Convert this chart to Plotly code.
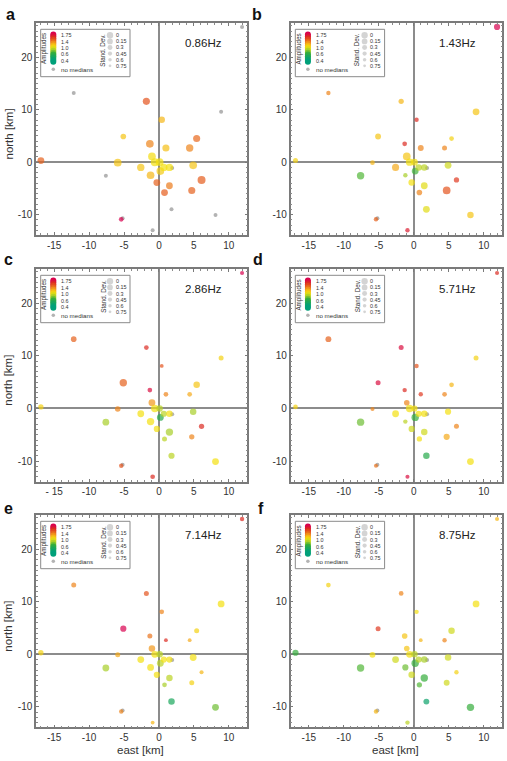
import numpy as np
import plotly.graph_objects as go

# ---------------- data ----------------
east = [11.9, -12.2, -1.8, 0.4, 8.9, -5.1, -1.3, 1.0, 4.4, 5.4, -16.9, -5.9, -1.0, -0.6, 0.1, -2.6,
        -1.2, -7.6, 0.2, 0.7, 1.5, 1.9, 4.9, -0.3, 1.5, 0.8, 4.7, 6.1, 1.8, 8.1, -5.4, -5.2, -0.9]
north = [25.8, 13.2, 11.6, 8.1, 9.6, 4.9, 3.5, 2.7, 2.7, 4.5, 0.3, -0.1, 1.1, 0.0, 0.0, -1.0,
         -2.5, -2.6, -1.7, -1.0, -1.0, -1.1, -0.6, -3.9, -4.5, -5.8, -5.4, -3.4, -9.0, -10.1, -10.9, -10.7, -13.0]

freq_labels = ["0.86Hz", "1.43Hz", "2.86Hz", "5.71Hz", "7.14Hz", "8.75Hz"]
panel_letters = ["a", "b", "c", "d", "e", "f"]

N = None
amp_a = [N, N, 1.45, 1.15, N, 1.1, 1.3, 1.12, 1.3, 1.38, 1.4, 1.1, 1.02, 1.0, 1.0, 1.1,
         1.15, N, 1.08, 1.0, 1.0, N, 1.1, 1.4, 1.33, 1.42, 1.4, 1.42, N, N, 1.75, N, N]
std_a = [N, N, 0.15, 0.25, N, 0.4, 0.05, 0.15, 0.1, 0.15, 0.2, 0.05, 0.05, 0.0, 0.05, 0.1,
         0.05, N, 0.05, 0.1, 0.1, N, 0.05, 0.2, 0.2, 0.2, 0.15, 0.0, N, N, 0.55, N, N]

amp_b = [1.75, 1.3, 1.15, 1.6, 1.1, 1.1, 1.6, 1.3, 1.3, 1.05, 1.05, 1.15, 1.1, 1.0, 1.0, 1.2,
         0.8, 0.65, 0.62, 0.85, 0.85, N, 0.9, 1.0, 0.95, 1.3, 1.45, 1.55, 0.95, 1.1, 1.4, N, 1.65]
std_b = [0.3, 0.6, 0.45, 0.6, 0.2, 0.35, 0.55, 0.35, 0.5, 0.55, 0.5, 0.55, 0.05, 0.1, 0.2, 0.15,
         0.6, 0.1, 0.2, 0.25, 0.25, N, 0.2, 0.25, 0.2, 0.4, 0.05, 0.45, 0.2, 0.25, 0.6, N, 0.6]

amp_c = [1.75, 1.4, 1.6, 1.45, 1.05, 1.4, 1.7, 1.3, 1.2, 1.1, 1.05, 1.3, 1.25, 1.0, 0.85, 1.0,
         1.0, 0.8, 0.55, 0.85, 1.0, N, 0.8, 1.0, 0.8, 0.85, 1.3, 1.6, 0.85, 1.0, 1.45, N, 1.6]
std_c = [0.65, 0.4, 0.55, 0.7, 0.5, 0.1, 0.55, 0.55, 0.55, 0.25, 0.45, 0.4, 0.2, 0.1, 0.25, 0.2,
         0.1, 0.2, 0.2, 0.3, 0.25, N, 0.25, 0.3, 0.1, 0.5, 0.45, 0.45, 0.3, 0.2, 0.6, N, 0.55]

amp_d = [1.6, 1.4, 1.7, 1.45, 1.05, 1.7, 1.6, 1.55, 1.3, 1.15, 1.05, 1.3, 1.3, 1.0, 1.0, 1.0,
         0.85, 0.7, 0.6, 1.0, 1.0, N, 1.0, 0.9, 0.9, 1.0, 1.2, 1.3, 0.55, 1.0, 1.35, N, 1.7]
std_d = [0.65, 0.35, 0.5, 0.6, 0.5, 0.5, 0.6, 0.6, 0.55, 0.55, 0.55, 0.65, 0.4, 0.1, 0.3, 0.2,
         0.6, 0.1, 0.1, 0.3, 0.25, N, 0.3, 0.3, 0.25, 0.45, 0.3, 0.5, 0.25, 0.2, 0.65, N, 0.65]

amp_e = [1.6, 1.3, 1.45, 1.3, 1.0, 1.75, 1.35, 1.6, 1.2, 1.05, 1.05, 1.2, 1.25, 1.0, 0.85, 1.0,
         1.0, 0.8, 0.85, 1.0, 1.0, N, 1.0, 1.0, 0.85, 0.8, 1.05, 1.15, 0.5, 0.7, 1.3, N, 1.15]
std_e = [0.6, 0.5, 0.5, 0.55, 0.2, 0.3, 0.5, 0.7, 0.7, 0.5, 0.45, 0.5, 0.25, 0.2, 0.25, 0.2,
         0.2, 0.2, 0.2, 0.3, 0.3, N, 0.2, 0.3, 0.25, 0.55, 0.5, 0.65, 0.25, 0.2, 0.6, N, 0.7]

amp_f = [1.15, 1.05, 1.3, 1.0, 1.0, 1.55, 1.1, 1.15, 1.3, 0.9, 0.6, 1.0, 1.1, 1.0, 0.85, 0.9,
         0.7, 0.65, 0.6, 0.85, 0.8, N, 0.9, 0.9, 0.6, 0.65, 0.9, 1.05, 0.45, 0.6, 1.15, N, 0.85]
std_f = [0.65, 0.55, 0.55, 0.6, 0.2, 0.5, 0.4, 0.7, 0.6, 0.25, 0.3, 0.35, 0.4, 0.2, 0.25, 0.2,
         0.3, 0.1, 0.1, 0.3, 0.25, N, 0.25, 0.25, 0.1, 0.45, 0.35, 0.6, 0.35, 0.1, 0.6, N, 0.6]

amps = [amp_a, amp_b, amp_c, amp_d, amp_e, amp_f]
stds = [std_a, std_b, std_c, std_d, std_e, std_f]

xtick_vals = [-15, -10, -5, 0, 5, 10]
xtick_text = ["-15", "-10", "-5", "0", "5", "10"]
xtick_text_c = ["- 15", "-10", "-5", "0", "5", "10"]
ytick_vals = [-10, 0, 10, 20]
ytick_text = ["-10", "0", "10", "20"]

amp_legend_vals = [1.75, 1.4, 1.0, 0.6, 0.4]
amp_legend_text = ["1.75", "1.4", "1.0", "0.6", "0.4"]
std_legend_vals = [0, 0.15, 0.3, 0.45, 0.6, 0.75]
std_legend_text = ["0", "0.15", "0.3", "0.45", "0.6", "0.75"]

# ---------------- styling ----------------
W, H = 507, 761
XR = [-17.6, 12.65]
YR = [-13.9, 26.55]
CMIN, CMAX = 0.4, 1.75


def cs_pos(v):
    return (v - CMIN) / (CMAX - CMIN)


colorscale = [
    [cs_pos(0.4), "#00a07a"],
    [cs_pos(0.6), "#34ad3c"],
    [cs_pos(0.8), "#a8cf2a"],
    [cs_pos(1.0), "#f4e00f"],
    [cs_pos(1.2), "#f5a91a"],
    [cs_pos(1.4), "#e6611c"],
    [cs_pos(1.6), "#dc2b22"],
    [cs_pos(1.75), "#d9004f"],
]


def msize(s):
    return 8.0 - 6.0 * s


GRAY = "#b3b3b3"
FONT = "Liberation Sans, Arial, Helvetica, sans-serif"
TXT = "#333333"
LEG_FS = 5.4

col_px = [(36.0, 247.3), (290.6, 502.3)]
row_px = [(23.0, 235.0), (269.0, 481.5), (515.0, 727.3)]

fig = go.Figure()
annotations = []
shapes = []

for i in range(6):
    r, c = divmod(i, 2)
    n = "" if i == 0 else str(i + 1)
    xa, ya = "x" + n, "y" + n
    x0p, x1p = col_px[c]
    y0p, y1p = row_px[r]
    PW, PH = x1p - x0p, y1p - y0p

    def dx(px):
        return XR[0] + px / PW * (XR[1] - XR[0])

    def dy(py):
        return YR[1] - py / PH * (YR[1] - YR[0])

    axis_common = dict(
        showgrid=False, zeroline=True, zerolinecolor="#8c8c8c", zerolinewidth=2,
        showline=True, linecolor="#7a7a7a", linewidth=1.5, mirror="ticks",
        ticks="inside", ticklen=3, tickwidth=1, tickcolor="#7a7a7a",
        minor=dict(dtick=1, tick0=0, ticks="inside", ticklen=2, tickwidth=1, tickcolor="#8a8a8a"),
        tickfont=dict(size=10, color=TXT, family=FONT), tickmode="array", fixedrange=True,
    )
    fig.update_layout(**{
        "xaxis" + n: dict(axis_common, range=XR, domain=[x0p / W, x1p / W], anchor=ya,
                          tickvals=xtick_vals, ticktext=(xtick_text_c if i == 2 else xtick_text)),
        "yaxis" + n: dict(axis_common, range=YR, domain=[1 - y1p / H, 1 - y0p / H], anchor=xa,
                          tickvals=ytick_vals, ticktext=ytick_text),
    })

    amp, std = amps[i], stds[i]
    gx = [east[k] for k in range(len(east)) if amp[k] is None]
    gy = [north[k] for k in range(len(east)) if amp[k] is None]
    cx = [east[k] for k in range(len(east)) if amp[k] is not None]
    cy = [north[k] for k in range(len(east)) if amp[k] is not None]
    ca = [amp[k] for k in range(len(east)) if amp[k] is not None]
    cs = [msize(std[k]) for k in range(len(east)) if amp[k] is not None]

    fig.add_trace(go.Scatter(x=gx, y=gy, mode="markers", xaxis=xa, yaxis=ya, hoverinfo="skip",
                             marker=dict(size=4, color=GRAY, line=dict(width=0))))
    fig.add_trace(go.Scatter(x=cx, y=cy, mode="markers", xaxis=xa, yaxis=ya,
                             marker=dict(size=cs, color=ca, colorscale=colorscale, cmin=CMIN, cmax=CMAX,
                                         line=dict(width=0))))

    # ----- in-panel legend -----
    shapes.append(dict(type="rect", xref=xa + " domain", yref=ya + " domain",
                       x0=4.7 / PW, x1=94.0 / PW, y0=1 - 53.7 / PH, y1=1 - 6.3 / PH,
                       line=dict(color="#8a8a8a", width=1), fillcolor="white", layer="below"))

    def dom_ann(text, px, py, size=LEG_FS, angle=0, xanchor="left"):
        annotations.append(dict(text=text, xref=xa + " domain", yref=ya + " domain",
                                x=px / PW, y=1 - py / PH, showarrow=False, textangle=angle,
                                xanchor=xanchor, yanchor="middle", borderpad=0,
                                font=dict(size=size, color=TXT, family=FONT)))

    dom_ann("Amplitudes", 8.0, 26.0, size=6.3, angle=-90, xanchor="center")
    dom_ann("Stand. Dev.", 66.7, 27.0, size=6.3, angle=-90, xanchor="center")
    amp_lab_y = [12.3, 18.7, 25.1, 31.5, 37.9]
    for t, yy in zip(amp_legend_text, amp_lab_y):
        dom_ann(t, 24.2, yy)
    dom_ann("no medians", 24.2, 46.2, size=6.2)
    std_lab_y = [12.3, 18.4, 24.5, 30.6, 36.7, 42.8]
    for t, yy in zip(std_legend_text, std_lab_y):
        dom_ann(t, 78.5, yy)

    stack_py = np.linspace(11.5, 38.7, 16)
    stack_vals = np.interp(stack_py, amp_lab_y, amp_legend_vals)
    fig.add_trace(go.Scatter(x=[dx(17.3)] * len(stack_py), y=[dy(p) for p in stack_py], mode="markers",
                             xaxis=xa, yaxis=ya, hoverinfo="skip",
                             marker=dict(size=6, color=list(stack_vals), colorscale=colorscale,
                                         cmin=CMIN, cmax=CMAX, line=dict(width=0))))
    fig.add_trace(go.Scatter(x=[dx(17.3)], y=[dy(46.2)], mode="markers", xaxis=xa, yaxis=ya,
                             hoverinfo="skip", marker=dict(size=3.5, color=GRAY)))
    fig.add_trace(go.Scatter(x=[dx(74.0)] * len(std_legend_vals), y=[dy(p) for p in std_lab_y],
                             mode="markers", xaxis=xa, yaxis=ya, hoverinfo="skip",
                             marker=dict(size=[0.8 * msize(s) for s in std_legend_vals], color="#c2c2c2",
                                         line=dict(width=0))))

    # frequency label
    annotations.append(dict(text=freq_labels[i], xref=xa + " domain", yref=ya + " domain",
                            x=167.0 / PW, y=1 - 20.3 / PH, showarrow=False, xanchor="center",
                            yanchor="middle", font=dict(size=11.5, color="#222", family=FONT)))

    # panel letter
    letter_pos = [(10, 14), (257, 14), (8, 260), (258, 260), (8, 508), (261, 508)]
    lx, ly = letter_pos[i]
    annotations.append(dict(text="<b>" + panel_letters[i] + "</b>", xref="paper", yref="paper",
                            x=lx / W, y=1 - ly / H, showarrow=False, xanchor="center", yanchor="middle",
                            font=dict(size=16, color="#111", family=FONT)))

    if c == 0:
        annotations.append(dict(text="north [km]", xref="paper", yref="paper",
                                x=8.5 / W, y=1 - ((y0p + y1p) / 2 + 5) / H, showarrow=False,
                                textangle=-90, xanchor="center", yanchor="middle",
                                font=dict(size=11.5, color=TXT, family=FONT)))
    if r == 2:
        annotations.append(dict(text="east [km]", xref="paper", yref="paper",
                                x=((x0p + x1p) / 2 - 1) / W, y=1 - 750 / H, showarrow=False,
                                xanchor="center", yanchor="middle",
                                font=dict(size=11.5, color=TXT, family=FONT)))

fig.update_layout(width=W, height=H, margin=dict(l=0, r=0, t=0, b=0),
                  paper_bgcolor="white", plot_bgcolor="white", showlegend=False,
                  annotations=annotations, shapes=shapes)

fig.write_html("out.html")
